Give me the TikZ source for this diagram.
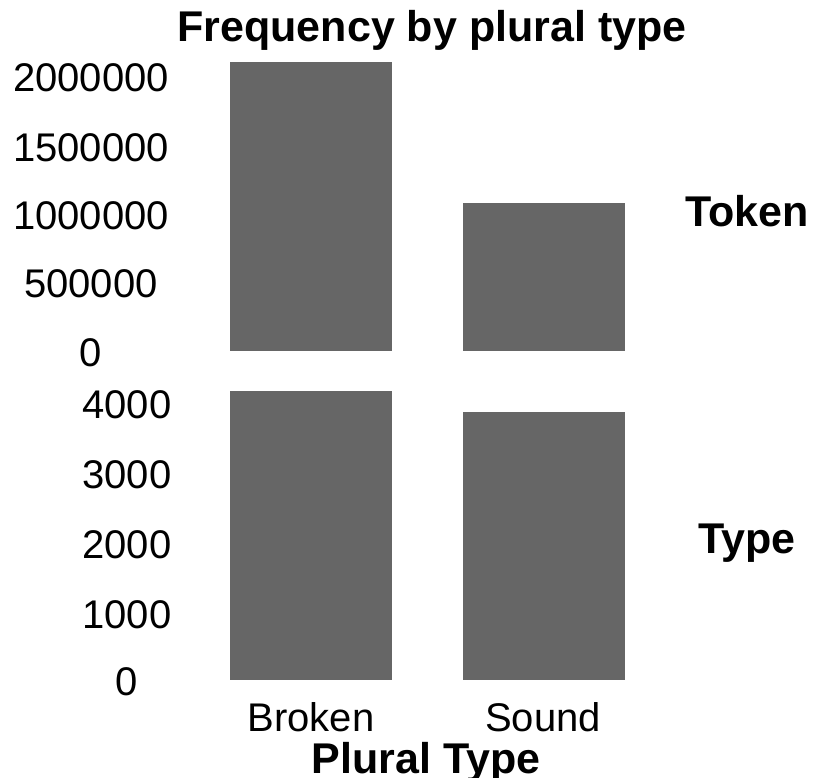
\documentclass[tikz,border=0pt]{standalone}
\usepackage{fontspec}
\setmainfont{Liberation Sans}
\definecolor{barfill}{RGB}{102,102,102}
\begin{document}
\begin{tikzpicture}[x=1pt,y=-1pt]
  \tikzstyle{every node}=[inner sep=0pt,anchor=base]
  \tikzstyle{tick}=[font=\fontsize{40}{48}\selectfont]
  \tikzstyle{heading}=[font=\fontsize{43}{50}\selectfont\bfseries]
  \tikzstyle{bar}=[fill=barfill]
  \useasboundingbox (0,0) rectangle (815,778);
  % title
  \node[heading] (title) at (432,42) {Frequency by plural type};
  % token panel
  \fill[bar] (230,62) rectangle (392,351);
  \fill[bar] (463,203) rectangle (625,351);
  \foreach \lab/\y in {2000000/92,1500000/162,1000000/230,500000/298,0/367}
    \node[tick] (tok-\y) at (91,\y) {\lab};
  \node[heading] (token) at (747,227) {Token};
  % type panel
  \fill[bar] (230,391) rectangle (392,680);
  \fill[bar] (463,412) rectangle (625,680);
  \foreach \lab/\y in {4000/419,3000/488,2000/558,1000/628,0/695}
    \node[tick] (typ-\y) at (127,\y) {\lab};
  \node[heading] (type) at (747,553) {Type};
  % x axis
  \node[tick] (broken) at (311,731) {Broken};
  \node[tick] (sound) at (543,731) {Sound};
  \node[heading] (xlab) at (426,773) {Plural Type};
\end{tikzpicture}
\end{document}
